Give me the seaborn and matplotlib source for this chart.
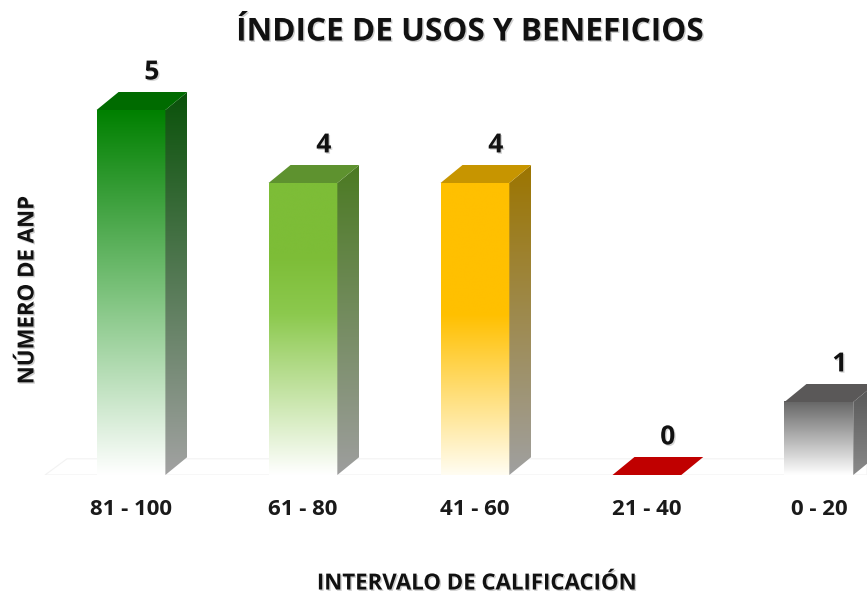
import numpy as np
import pandas as pd
import matplotlib.pyplot as plt
import seaborn as sns
from matplotlib.colors import LinearSegmentedColormap
from matplotlib.patches import Polygon
import matplotlib.patheffects as pe

# Data
intervals = ["81 - 100", "61 - 80", "41 - 60", "21 - 40", "0 - 20"]
num_anp = [5, 4, 4, 0, 1]

# colours: (front gradient stops, top face, side top, side bottom)
front_stops = [
    [(0.0, "#ffffff"), (0.5, "#7cc27c"), (1.0, "#008000")],
    [(0.0, "#ffffff"), (0.55, "#8cc94e"), (0.75, "#7dbd37"), (1.0, "#7dbd37")],
    [(0.0, "#fffdf2"), (0.55, "#ffc000"), (1.0, "#ffc000")],
    [(0.0, "#c00000"), (1.0, "#c00000")],
    [(0.0, "#ffffff"), (1.0, "#666666")],
]
top_colors = ["#006b00", "#5e922f", "#c79500", "#c00000", "#5a5858"]
side_top = ["#0a520a", "#4b7a22", "#9c7500", "#900000", "#555555"]
side_bottom = ["#a2a2a2", "#9e9e9e", "#a0a0a0", "#900000", "#8a8a8a"]

df = pd.DataFrame({"intervalo": intervals, "anp": num_anp})

sns.set_theme(style="white")
plt.rcParams["font.family"] = ["Open Sans", "DejaVu Sans"]

fig = plt.figure(figsize=(8.67, 5.97), dpi=100)
W, H = 867, 597
# axes in pixels: y=0 at 475 from top, 73 px per unit, 172 px per category
x_left, x_right = -0.6, 4.28
px_unit_x = 172.0
ax_left = 131 - 0.6 * px_unit_x
ax_w = W - ax_left
y_top_val = 5.75
ax_bottom = H - 475
ax_h = y_top_val * 73
ax = fig.add_axes([ax_left / W, ax_bottom / H, ax_w / W, ax_h / H])

sns.barplot(data=df, x="intervalo", y="anp", ax=ax, width=0.4,
            color="white", edgecolor="none", saturation=1)
ax.set_xlim(x_left, x_right)
ax.set_ylim(0, y_top_val)

dx = 22 / px_unit_x
dy = 18 / 73.0

# faint floor
floor = Polygon([(-0.5, 0), (x_right, 0), (x_right, dy * 0.9), (-0.5 + dx, dy * 0.9)],
                closed=True, facecolor="none", edgecolor="#f2f2f2", lw=0.8, zorder=0)
ax.add_patch(floor)

shadow_small = [pe.withSimplePatchShadow(offset=(1, -1), shadow_rgbFace="#999999", alpha=0.4)]

for i, p in enumerate(ax.patches[:len(num_anp)]):
    x0 = p.get_x()
    w = p.get_width()
    h = p.get_height()
    x1 = x0 + w
    p.set_visible(False)
    if h > 0:
        # front face gradient
        cmap = LinearSegmentedColormap.from_list(f"f{i}", front_stops[i])
        grad = np.linspace(0, 1, 256).reshape(-1, 1)
        ax.imshow(grad, cmap=cmap, aspect="auto", origin="lower",
                  extent=(x0, x1, 0, h), zorder=3, interpolation="bicubic")
        # side face gradient
        side = Polygon([(x1, 0), (x1 + dx, dy), (x1 + dx, h + dy), (x1, h)],
                       closed=True, facecolor="none", edgecolor="none", zorder=3)
        ax.add_patch(side)
        scmap = LinearSegmentedColormap.from_list(f"s{i}", [side_bottom[i], side_top[i]])
        im2 = ax.imshow(grad, cmap=scmap, aspect="auto", origin="lower",
                        extent=(x1, x1 + dx, 0, h + dy), zorder=3, interpolation="bicubic")
        im2.set_clip_path(side)
    # top face
    top = Polygon([(x0, h), (x1, h), (x1 + dx, h + dy), (x0 + dx, h + dy)],
                  closed=True, facecolor=top_colors[i], edgecolor="none", zorder=4)
    ax.add_patch(top)
    ax.text(x0 + w / 2 + dx * 0.95, h + dy + 0.09, str(num_anp[i]), ha="center", va="bottom",
            fontsize=19, fontweight="bold", color="#111111", zorder=5,
            path_effects=shadow_small)

ax.set_xticks(range(len(intervals)))
ax.set_xticklabels(intervals, fontsize=16, fontweight="bold", color="#1a1a1a")
ax.tick_params(axis="x", length=0, pad=17)
ax.set_yticks([])
ax.set_xlabel("")
ax.set_ylabel("")
for s in ax.spines.values():
    s.set_visible(False)

shadow = [pe.withSimplePatchShadow(offset=(1, -1), shadow_rgbFace="#888888", alpha=0.4)]
fig.text(470 / W, 1 - 32 / H, "ÍNDICE DE USOS Y BENEFICIOS", ha="center", va="center",
         fontsize=22.7, fontweight="bold", color="#111111", path_effects=shadow)
fig.text(477 / W, 1 - 584 / H, "INTERVALO DE CALIFICACIÓN", ha="center", va="center",
         fontsize=16, fontweight="bold", color="#111111", path_effects=shadow)
fig.text(28 / W, 1 - 290 / H, "NÚMERO DE ANP", ha="center", va="center", rotation=90,
         fontsize=16, fontweight="bold", color="#111111", path_effects=shadow)

fig.savefig("out.png", dpi=100, facecolor="white")
